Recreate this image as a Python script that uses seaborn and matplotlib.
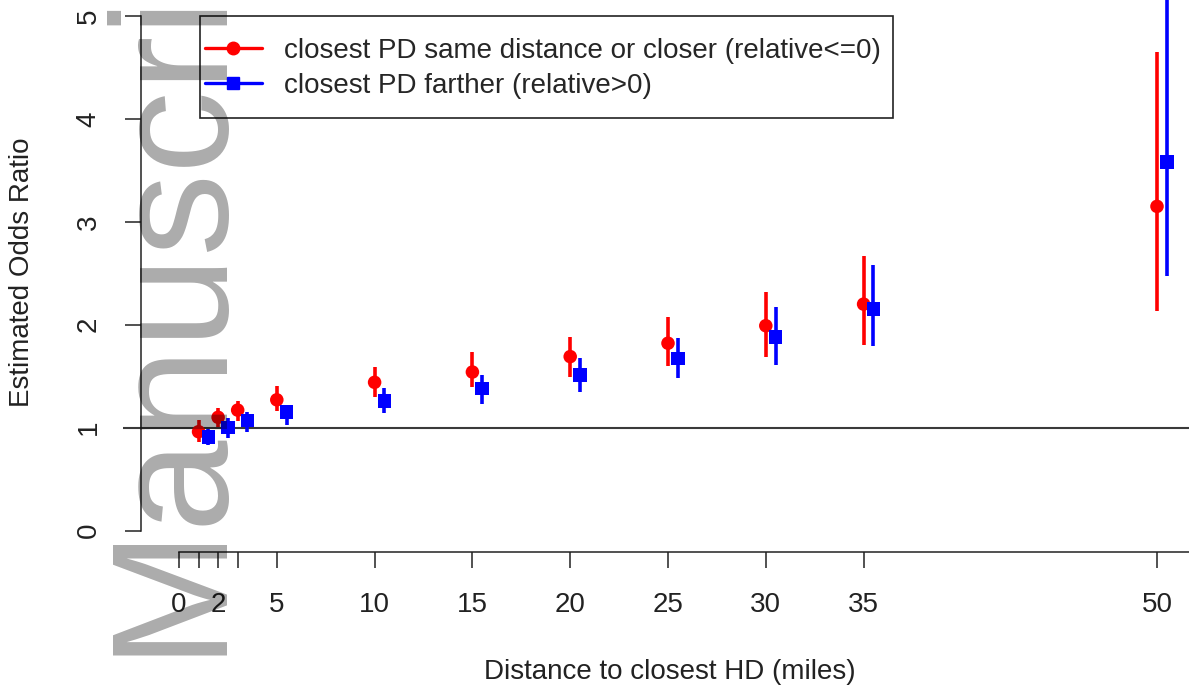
import matplotlib

matplotlib.use("Agg")
import matplotlib.pyplot as plt
import pandas as pd
import seaborn as sns
from matplotlib.lines import Line2D
from matplotlib.patches import Rectangle

# estimated odds ratios
distance = [1, 2, 3, 5, 10, 15, 20, 25, 30, 35, 50]
closer_or = [0.96, 1.10, 1.17, 1.27, 1.44, 1.54, 1.69, 1.82, 1.99, 2.20, 3.15]
closer_lo = [0.86, 1.01, 1.06, 1.16, 1.30, 1.39, 1.49, 1.60, 1.69, 1.80, 2.13]
closer_hi = [1.07, 1.19, 1.26, 1.40, 1.59, 1.73, 1.88, 2.07, 2.32, 2.67, 4.65]
farther_or = [0.91, 1.00, 1.07, 1.15, 1.26, 1.38, 1.51, 1.67, 1.88, 2.15, 3.58]
farther_lo = [0.83, 0.90, 0.96, 1.03, 1.14, 1.23, 1.35, 1.48, 1.61, 1.79, 2.47]
farther_hi = [0.99, 1.09, 1.15, 1.22, 1.38, 1.51, 1.68, 1.87, 2.17, 2.58, 5.30]

x_ticks = [0, 1, 2, 3, 5, 10, 15, 20, 25, 30, 35, 50]
x_ticklabels = ["0", "", "2", "", "5", "10", "15", "20", "25", "30", "35", "50"]
y_ticks = [0, 1, 2, 3, 4, 5]

labels = ["closest PD same distance or closer (relative<=0)", "closest PD farther (relative>0)"]
colors = {labels[0]: "#ff0000", labels[1]: "#0000ff"}
markers = {labels[0]: "o", labels[1]: "s"}
DODGE = 0.5  # farther group drawn slightly to the right

df = pd.concat(
    [
        pd.DataFrame({"x": distance, "or": closer_or, "lo": closer_lo, "hi": closer_hi, "group": labels[0]}),
        pd.DataFrame(
            {"x": [d + DODGE for d in distance], "or": farther_or, "lo": farther_lo, "hi": farther_hi,
             "group": labels[1]}
        ),
    ],
    ignore_index=True,
)

sns.set_theme(style="white")
plt.rcParams["font.family"] = ["Liberation Sans", "DejaVu Sans"]

W, H = 1189, 690
fig = plt.figure(figsize=(W / 100, H / 100), dpi=100)


def px_rect(left, top, right, bottom):
    return [left / W, 1 - bottom / H, (right - left) / W, (bottom - top) / H]


# pixel <-> data mapping of the original R plot
X0, XS = 179, 19.56
Y0, YS = 530.5, 102.9
ax = fig.add_axes(px_rect(123, 0, 1217, 552))
ax.set_xlim((123 - X0) / XS, (1217 - X0) / XS)
ax.set_ylim((Y0 - 552) / YS, Y0 / YS)

ax.axhline(1, color="#3a3a3a", lw=1.5, zorder=1)

for g, sub in df.groupby("group", sort=False):
    ax.vlines(sub["x"], sub["lo"], sub["hi"], color=colors[g], lw=2.6, zorder=2)

sns.scatterplot(
    data=df, x="x", y="or", hue="group", style="group", palette=colors, markers=markers,
    s=95, linewidth=0, legend=False, ax=ax, zorder=3,
)

for side in ("top", "right"):
    ax.spines[side].set_visible(False)
ax.spines["left"].set_position(("data", (141 - X0) / XS))
ax.spines["left"].set_bounds(0, 5)
ax.spines["bottom"].set_bounds(0, ax.get_xlim()[1])
for side in ("left", "bottom"):
    ax.spines[side].set_color("#222222")
    ax.spines[side].set_linewidth(1.1)

ax.set_xticks(x_ticks)
ax.set_xticklabels(x_ticklabels)
ax.set_yticks(y_ticks)
ax.set_yticklabels([str(v) for v in y_ticks], rotation=90, va="center")
ax.tick_params(axis="both", direction="out", length=11.5, width=1.1, color="#222222",
               labelsize=20, labelcolor="#222222", pad=17, left=True, bottom=True)
ax.set_xlabel("")
ax.set_ylabel("")
ax.grid(False)

fig.text(670 / W, 1 - 672 / H, "Distance to closest HD (miles)", ha="center", va="center",
         fontsize=20, color="#222222")
fig.text(22 / W, 1 - 272 / H, "Estimated Odds Ratio", ha="center", va="center", rotation=90,
         fontsize=20, color="#222222")

# legend without its own frame; the R-style box is drawn separately
handles = [
    Line2D([], [], color=colors[labels[0]], marker="o", lw=2.4, markersize=9),
    Line2D([], [], color=colors[labels[1]], marker="s", lw=2.4, markersize=9),
]
fig.legend(
    handles, labels, loc="upper left", bbox_to_anchor=(205 / W, 1 - 38 / H), borderaxespad=0,
    frameon=False, fontsize=20, handlelength=2.05, handletextpad=0.8, labelspacing=0.31, borderpad=0,
)
fig.add_artist(Rectangle((200 / W, 1 - 118 / H), 693 / W, 102 / H, transform=fig.transFigure,
                         fill=False, edgecolor="#222222", linewidth=1.2))

# watermark across the left edge
fig.text(215 / W, 1 - 655 / H, "Manuscript", rotation=90, rotation_mode="anchor", ha="left",
         va="baseline", fontsize=119, color="black", alpha=0.33, zorder=10)

fig.savefig("out.png", dpi=100)
